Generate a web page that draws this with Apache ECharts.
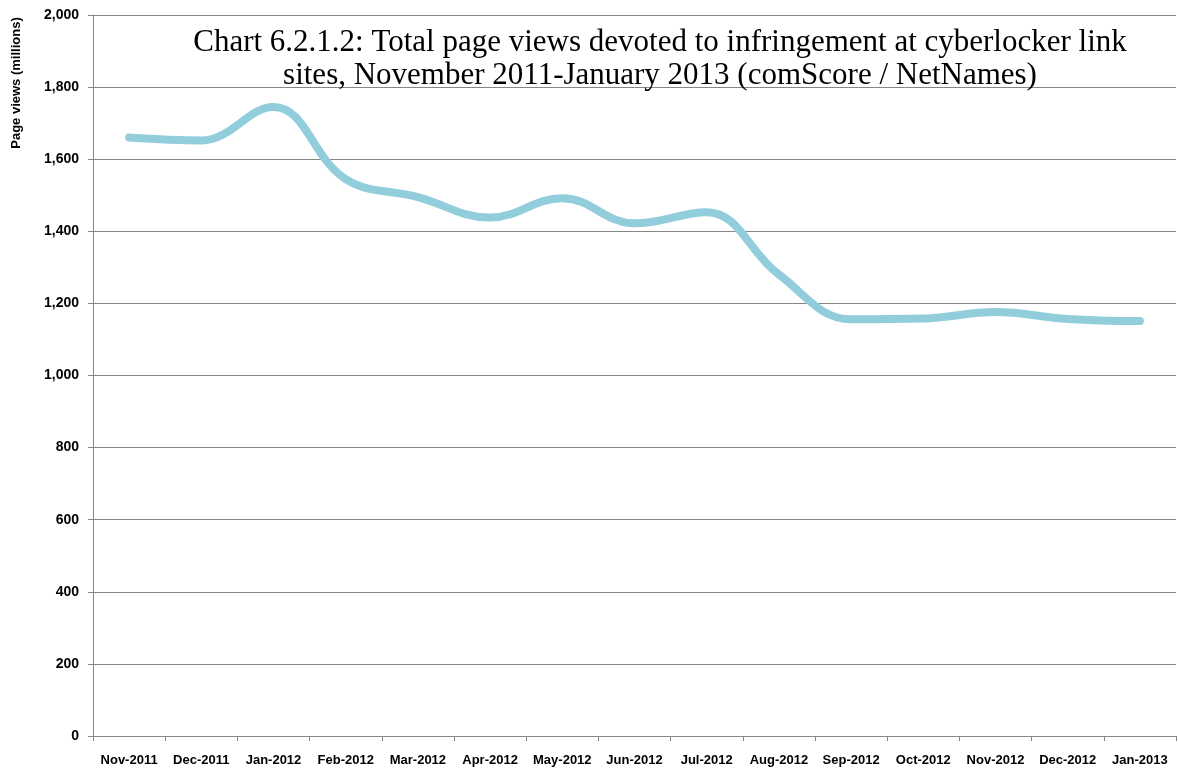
<!DOCTYPE html>
<html>
<head>
<meta charset="utf-8">
<script src="https://cdn.jsdelivr.net/npm/echarts@6/dist/echarts.min.js"></script>
<style>
  html, body { margin: 0; padding: 0; background: #fff; }
  #chart { width: 1178px; height: 775px; }
</style>
</head>
<body>
<div id="chart"></div>
<script>
// categories and values (millions of page views)
const months = [
  "Nov-2011", "Dec-2011", "Jan-2012", "Feb-2012", "Mar-2012",
  "Apr-2012", "May-2012", "Jun-2012", "Jul-2012", "Aug-2012",
  "Sep-2012", "Oct-2012", "Nov-2012", "Dec-2012", "Jan-2013"
];
const pageViews = [
  1660, 1652, 1745, 1545, 1495,
  1438, 1492, 1422, 1453, 1280,
  1156, 1158, 1176, 1157, 1151
];
const yTicks = { min: 0, max: 2000, interval: 200 };

const chart = echarts.init(document.getElementById("chart"));

const option = {
  backgroundColor: "#fff",
  animation: false,
  title: {
    text: "Chart 6.2.1.2: Total page views devoted to infringement at cyberlocker link\nsites, November 2011-January 2013 (comScore / NetNames)",
    left: 655,
    top: 21,
    textAlign: "center",
    textStyle: {
      fontFamily: "Liberation Serif",
      fontWeight: "normal",
      fontSize: 31,
      lineHeight: 33,
      color: "#000"
    }
  },
  graphic: [
    {
      type: "text",
      x: 10,
      y: 83,
      rotation: Math.PI / 2,
      style: {
        text: "Page views (millions)",
        font: "bold 13px 'Liberation Sans'",
        fill: "#000",
        align: "center",
        verticalAlign: "top"
      }
    }
  ],
  grid: {
    left: 93,
    right: 2,
    top: 15,
    bottom: 39
  },
  xAxis: {
    type: "category",
    data: months,
    boundaryGap: true,
    axisLine: { lineStyle: { color: "#868686", width: 1 } },
    axisTick: { show: true, length: 5, lineStyle: { color: "#868686" } },
    axisLabel: {
      color: "#000",
      fontFamily: "Liberation Sans",
      fontWeight: "bold",
      fontSize: 13,
      margin: 18,
      interval: 0
    },
    splitLine: { show: false }
  },
  yAxis: {
    type: "value",
    min: yTicks.min,
    max: yTicks.max,
    interval: yTicks.interval,
    axisLine: { show: true, lineStyle: { color: "#868686", width: 1 } },
    axisTick: { show: true, length: 5, lineStyle: { color: "#868686" } },
    axisLabel: {
      color: "#000",
      fontFamily: "Liberation Sans",
      fontWeight: "bold",
      fontSize: 14,
      margin: 14,
      formatter: (v) => v.toLocaleString("en-US")
    },
    splitLine: { show: true, lineStyle: { color: "#868686", width: 1 } }
  },
  series: [
    {
      name: "Page views",
      type: "line",
      data: pageViews,
      smooth: 0.4,
      showSymbol: false,
      lineStyle: { color: "#92CDDC", width: 8, cap: "round", join: "round" },
      itemStyle: { color: "#92CDDC" }
    }
  ]
};

chart.setOption(option);
</script>
</body>
</html>
